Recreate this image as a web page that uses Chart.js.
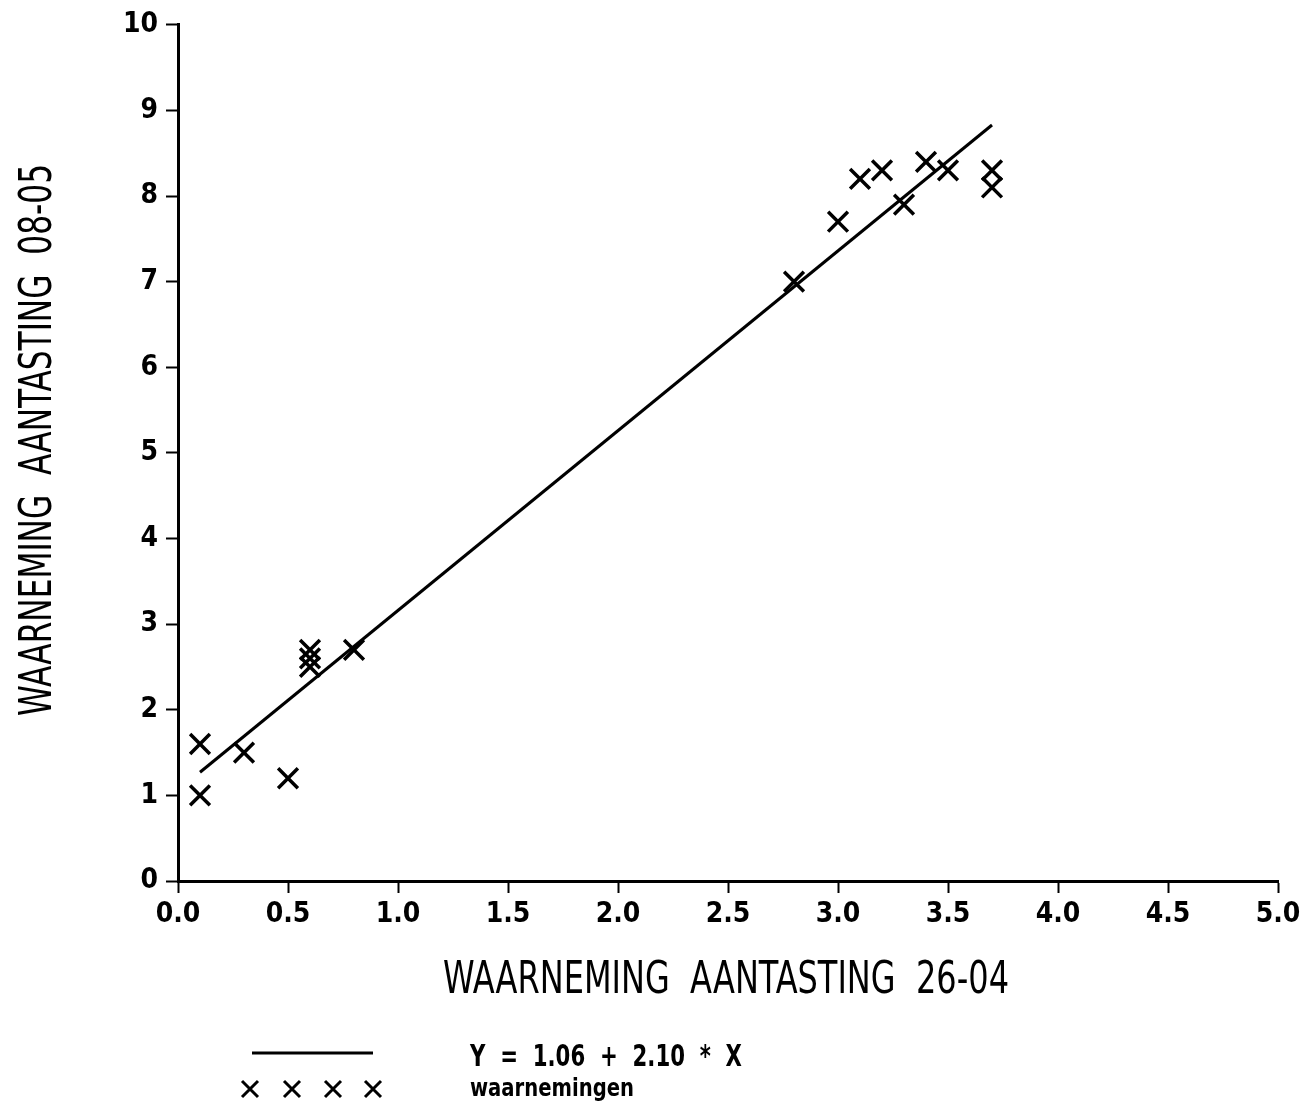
<!DOCTYPE html>
<html>
<head>
<meta charset="utf-8">
<script src="https://cdn.jsdelivr.net/npm/chart.js@4.4.1/dist/chart.umd.min.js"></script>
<style>
  html, body { margin: 0; padding: 0; background: #fff; }
  #wrap { width: 1310px; height: 1106px; position: relative; }
</style>
</head>
<body>
<div id="wrap"><canvas id="scatterChart"></canvas></div>
<script>
const obsX = [0.1, 0.1, 0.3, 0.5, 0.6, 0.6, 0.6, 0.8, 2.8, 3.0, 3.1, 3.2, 3.3, 3.4, 3.5, 3.7, 3.7];
const obsY = [1.6, 1.0, 1.5, 1.2, 2.7, 2.6, 2.5, 2.7, 7.0, 7.7, 8.2, 8.3, 7.9, 8.4, 8.3, 8.3, 8.1];
// fitted line Y = 1.06 + 2.10 * X, drawn between its end points
const fitX = [0.1, 3.7];
const fitY = [1.27, 8.83];
const xTicks = [0, 0.5, 1, 1.5, 2, 2.5, 3, 3.5, 4, 4.5, 5];
const yTicks = [0, 1, 2, 3, 4, 5, 6, 7, 8, 9, 10];

const xTitle = 'WAARNEMING  AANTASTING  26-04';
const yTitle = 'WAARNEMING  AANTASTING  08-05';
const legendLine = 'Y  =  1.06  +  2.10  *  X';
const legendMarks = 'waarnemingen';

const FONT = '"Liberation Sans Narrow", "DejaVu Sans Condensed", "Roboto Condensed", Arial, sans-serif';

function fitText(ctx, text, x, y, width, size, weight) {
  ctx.save();
  ctx.font = `${weight} ${size}px ${FONT}`;
  const w = ctx.measureText(text).width;
  ctx.translate(x, y);
  ctx.scale(width / w, 1);
  ctx.fillText(text, 0, 0);
  ctx.restore();
}

const textPlugin = {
  id: 'textPlugin',
  afterDraw(chart) {
    const ctx = chart.ctx;
    ctx.save();
    ctx.fillStyle = '#000';
    ctx.textBaseline = 'middle';
    ctx.textAlign = 'left';

    // axis titles
    fitText(ctx, xTitle, 443, 982, 566, 44, 'normal');
    ctx.save();
    ctx.translate(40, 716);
    ctx.rotate(-Math.PI / 2);
    fitText(ctx, yTitle, 0, 0, 552, 44, 'normal');
    ctx.restore();

    // legend
    ctx.strokeStyle = '#000';
    ctx.lineWidth = 3;
    ctx.beginPath();
    ctx.moveTo(252, 1053);
    ctx.lineTo(373, 1053);
    ctx.stroke();
    [250, 292, 333, 373].forEach(cx => {
      ctx.beginPath();
      ctx.moveTo(cx - 8, 1081); ctx.lineTo(cx + 8, 1097);
      ctx.moveTo(cx + 8, 1081); ctx.lineTo(cx - 8, 1097);
      ctx.stroke();
    });
    fitText(ctx, legendLine, 470, 1058, 272, 30, 'bold');
    fitText(ctx, legendMarks, 470, 1090, 164, 24, 'bold');
    ctx.restore();
  }
};

const tickFont = { family: FONT, size: 28, weight: 'bold' };

new Chart(document.getElementById('scatterChart'), {
  type: 'scatter',
  data: {
    datasets: [
      {
        label: 'Y = 1.06 + 2.10 * X',
        type: 'line',
        data: fitX.map((x, i) => ({ x, y: fitY[i] })),
        borderColor: '#000',
        borderWidth: 3,
        pointRadius: 0,
        fill: false
      },
      {
        label: 'waarnemingen',
        data: obsX.map((x, i) => ({ x, y: obsY[i] })),
        pointStyle: 'crossRot',
        pointRadius: 14,
        pointBorderWidth: 3.5,
        borderColor: '#000',
        backgroundColor: '#000'
      }
    ]
  },
  options: {
    responsive: true,
    maintainAspectRatio: false,
    animation: false,
    layout: { padding: { left: 0, top: 22, right: 32, bottom: 0 } },
    plugins: {
      legend: { display: false },
      tooltip: { enabled: false }
    },
    scales: {
      x: {
        type: 'linear',
        min: 0,
        max: 5,
        afterBuildTicks: s => { s.ticks = xTicks.map(v => ({ value: v })); },
        afterFit: s => { s.height = 225; },
        ticks: {
          color: '#000',
          font: tickFont,
          padding: 5,
          maxRotation: 0,
          callback: v => Number(v).toFixed(1)
        },
        grid: { drawOnChartArea: false, tickLength: 12, tickColor: '#000', tickWidth: 2 },
        border: { display: true, color: '#000', width: 3 }
      },
      y: {
        type: 'linear',
        min: 0,
        max: 10,
        afterBuildTicks: s => { s.ticks = yTicks.map(v => ({ value: v })); },
        afterFit: s => { s.width = 178; },
        ticks: { color: '#000', font: tickFont, padding: 8 },
        grid: { drawOnChartArea: false, tickLength: 12, tickColor: '#000', tickWidth: 2 },
        border: { display: true, color: '#000', width: 3 }
      }
    }
  },
  plugins: [textPlugin]
});
</script>
</body>
</html>
